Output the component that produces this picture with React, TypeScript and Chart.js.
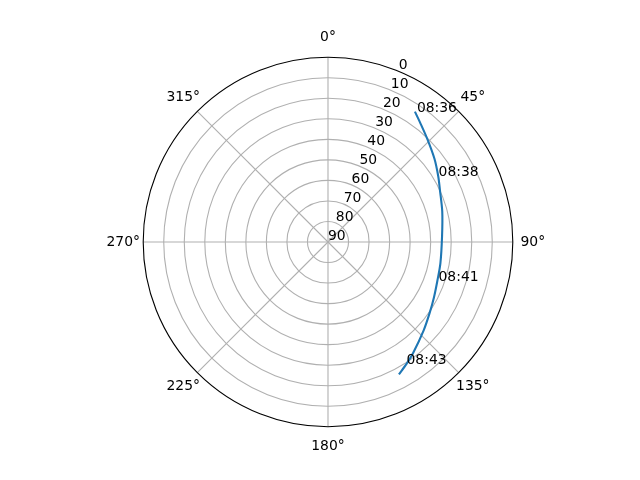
import { useEffect, useRef } from "react";
import { Chart, registerables } from "chart.js";

Chart.register(...registerables);

// satellite pass: azimuth (deg, clockwise from north) and elevation (deg)
const passAz = [33.7, 38, 44.3, 52, 59.2, 65.1, 75, 87.3, 100.6, 109.4, 117.5, 125, 132.7, 142.5, 147.2, 151.8];
const passEl = [13.7, 16.8, 20.5, 24.2, 27.5, 29.9, 32.4, 34.4, 34.3, 33.5, 31.8, 29.6, 26.6, 21.9, 19.4, 16.9];

// time annotations along the pass
const timeLabels = ["08:36", "08:38", "08:41", "08:43"];
const timeAz = [33.9, 58.8, 109.7, 147.8];
const timeEl = [13.7, 27.9, 33.6, 19.6];

const thetaTicks = [0, 45, 90, 135, 180, 225, 270, 315];
const radialTicks = [0, 10, 20, 30, 40, 50, 60, 70, 80, 90];
const radialLabelAngle = 22.5;

const FONT = '13.9px "DejaVu Sans"';
const toRad = (d: number) => (d * Math.PI) / 180;

const polarGrid = {
  id: "polarGrid",
  beforeDatasetsDraw(chart: any) {
    const { ctx, scales: { x } } = chart;
    const cx = x.getPixelForValue(0);
    const cy = chart.scales.y.getPixelForValue(0);
    const rad = (el: number) => x.getPixelForValue(90 - el) - cx;
    ctx.save();
    ctx.strokeStyle = "#b0b0b0";
    ctx.lineWidth = 1.1;
    radialTicks.forEach((el) => {
      if (el <= 0 || el >= 90) return;
      ctx.beginPath();
      ctx.arc(cx, cy, rad(el), 0, Math.PI * 2);
      ctx.stroke();
    });
    const R = rad(0);
    thetaTicks.forEach((a) => {
      ctx.beginPath();
      ctx.moveTo(cx, cy);
      ctx.lineTo(cx + R * Math.sin(toRad(a)), cy - R * Math.cos(toRad(a)));
      ctx.stroke();
    });
    ctx.restore();
  },
  afterDatasetsDraw(chart: any) {
    const { ctx, scales: { x, y } } = chart;
    const cx = x.getPixelForValue(0);
    const cy = y.getPixelForValue(0);
    const rad = (el: number) => x.getPixelForValue(90 - el) - cx;
    const R = rad(0);
    ctx.save();
    // outer spine
    ctx.strokeStyle = "#000000";
    ctx.lineWidth = 1.1;
    ctx.beginPath();
    ctx.arc(cx, cy, R, 0, Math.PI * 2);
    ctx.stroke();

    ctx.fillStyle = "#000000";
    ctx.font = FONT;
    // angle labels
    ctx.textAlign = "center";
    ctx.textBaseline = "middle";
    thetaTicks.forEach((a) => {
      const r = R + 20;
      ctx.fillText(a + "°", cx + r * Math.sin(toRad(a)), cy - r * Math.cos(toRad(a)));
    });
    // radial labels
    ctx.textAlign = "left";
    ctx.textBaseline = "bottom";
    radialTicks.forEach((el) => {
      const r = rad(el);
      ctx.fillText(String(el), cx + r * Math.sin(toRad(radialLabelAngle)), cy - r * Math.cos(toRad(radialLabelAngle)) + 1);
    });
    // time annotations
    ctx.textBaseline = "alphabetic";
    timeLabels.forEach((t, i) => {
      const r = 90 - timeEl[i];
      const px = x.getPixelForValue(r * Math.sin(toRad(timeAz[i])));
      const py = y.getPixelForValue(r * Math.cos(toRad(timeAz[i])));
      ctx.fillText(t, px + 1.5, py);
    });
    ctx.restore();
  },
};

export default function App() {
  const chartRef = useRef<HTMLCanvasElement>(null);
  const chartInstance = useRef<Chart | null>(null);

  useEffect(() => {
    if (!chartRef.current) return;
    if (chartInstance.current) chartInstance.current.destroy();

    const points = passAz.map((az, i) => {
      const r = 90 - passEl[i];
      return { x: r * Math.sin(toRad(az)), y: r * Math.cos(toRad(az)) };
    });

    chartInstance.current = new Chart(chartRef.current, {
      type: "scatter",
      data: {
        datasets: [
          {
            data: points,
            showLine: true,
            borderColor: "#1f77b4",
            backgroundColor: "#1f77b4",
            borderWidth: 2.1,
            pointRadius: 0,
            tension: 0.3,
          },
        ],
      },
      options: {
        responsive: true,
        maintainAspectRatio: false,
        animation: false,
        layout: { padding: { left: 143.2, right: 127.2, top: 57.2, bottom: 53.2 } },
        plugins: { legend: { display: false }, tooltip: { enabled: false } },
        scales: {
          x: { type: "linear", min: -90, max: 90, display: false },
          y: { type: "linear", min: -90, max: 90, display: false },
        },
      },
      plugins: [polarGrid],
    });

    return () => {
      if (chartInstance.current) {
        chartInstance.current.destroy();
        chartInstance.current = null;
      }
    };
  }, []);

  return (
    <div style={{ position: "fixed", left: 0, top: 0, width: 640, height: 480, background: "#ffffff" }}>
      <canvas ref={chartRef}></canvas>
    </div>
  );
}
